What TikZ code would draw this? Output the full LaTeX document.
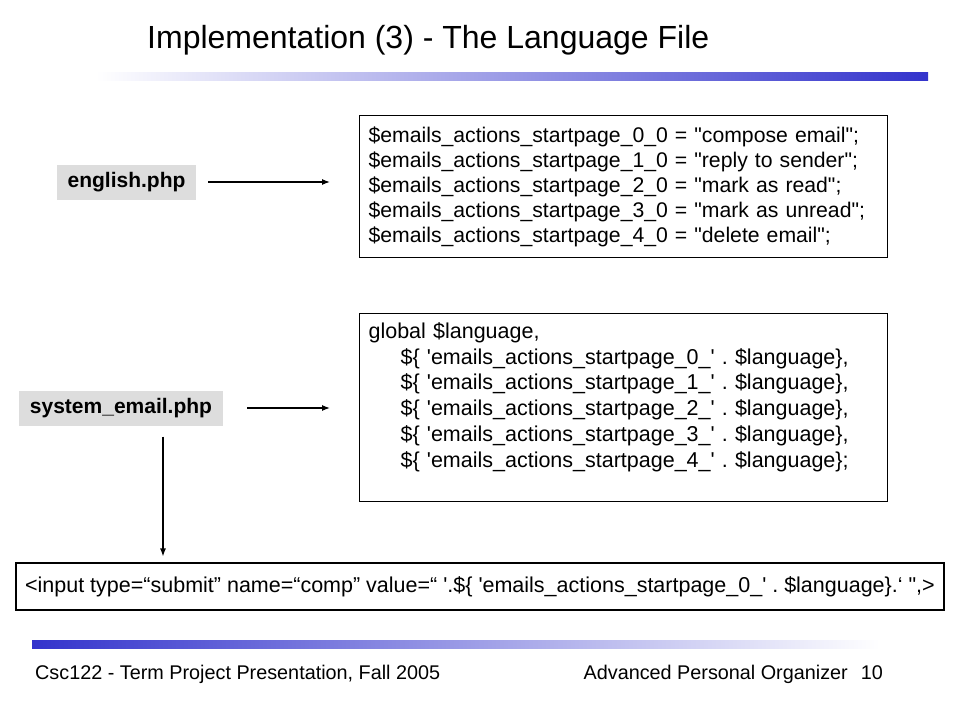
\documentclass[tikz,border=0pt]{standalone}
\usepackage{fontspec}
\setmainfont{Liberation Sans}
\usetikzlibrary{positioning,arrows.meta}

\definecolor{barblue}{RGB}{51,51,204}
\definecolor{taggray}{RGB}{221,221,221}
\newcommand{\tq}{\textquotesingle}
\newcommand{\dq}{\textquotedbl}
\frenchspacing

\begin{document}
\begin{tikzpicture}[x=1pt,y=-1pt,
  filetag/.style={fill=taggray,minimum height=35pt,inner sep=0pt,font=\fontsize{21}{25}\selectfont\bfseries},
  codebox/.style={draw,line width=1.2pt,align=left,text width=510pt,inner xsep=9pt,inner ysep=11pt,font=\fontsize{21.2}{25}\selectfont},
  link/.style={->,>={Latex[length=8pt,width=6pt]},line width=1.2pt}]
\useasboundingbox (0,0) rectangle (960,720);

% Title and bars
\node [anchor=base west,inner sep=0pt,font=\fontsize{32}{38}\selectfont] (title) at (147,48) {Implementation (3) - The Language File};
\shade [left color=white,right color=barblue] (96,72) rectangle (928,80);
\shade [left color=barblue,right color=white] (32,640) rectangle (880,648);

% Language file
\node [codebox,anchor=north west] (langdefs) at (359,115) {%
\$emails\_actions\_startpage\_0\_0 = \dq compose email\dq;\\
\$emails\_actions\_startpage\_1\_0 = \dq reply to sender\dq;\\
\$emails\_actions\_startpage\_2\_0 = \dq mark as read\dq;\\
\$emails\_actions\_startpage\_3\_0 = \dq mark as unread\dq;\\
\$emails\_actions\_startpage\_4\_0 = \dq delete email\dq;};

% Where it is used
\node [codebox,anchor=north west,inner ysep=9pt,font=\fontsize{21.5}{25.7}\selectfont] (usedefs) at (359,313) {%
global \$language,\\
\hspace*{32pt}\$\{ \tq emails\_actions\_startpage\_0\_\tq{} . \$language\},\\
\hspace*{32pt}\$\{ \tq emails\_actions\_startpage\_1\_\tq{} . \$language\},\\
\hspace*{32pt}\$\{ \tq emails\_actions\_startpage\_2\_\tq{} . \$language\},\\
\hspace*{32pt}\$\{ \tq emails\_actions\_startpage\_3\_\tq{} . \$language\},\\
\hspace*{32pt}\$\{ \tq emails\_actions\_startpage\_4\_\tq{} . \$language\};\\
\mbox{}};

% File names
\node [filetag,minimum width=139pt] (english) at (126.5,182) {english.php};
\node [filetag,minimum width=204pt] (system) at (121,408) {system\_email.php};

% Button line
\node [draw,line width=1.2pt,minimum width=928pt,minimum height=47pt,inner sep=0pt,font=\fontsize{21.5}{25}\selectfont] (inputline) at (480,586.5)
  {<input type=“submit” name=“comp” value=“ \tq.\$\{ \tq emails\_actions\_startpage\_0\_\tq{} . \$language\}.‘ \dq,>};

% Arrows
\draw [link,shorten <=12pt,shorten >=29pt] (english.east) -- (english.east -| langdefs.west);
\draw [link,shorten <=24pt,shorten >=29pt] (system.east) -- (system.east -| usedefs.west);
\draw [link,shorten <=11pt,shorten >=6pt] ([xshift=42pt]system.south) -- ([xshift=42pt]system.south |- inputline.north);

% Footer
\node [anchor=base west,inner sep=0pt,font=\fontsize{19.8}{24}\selectfont] (course) at (35,679) {Csc122 - Term Project Presentation, Fall 2005};
\node [anchor=base east,inner sep=0pt,font=\fontsize{19.8}{24}\selectfont] (organizer) at (848,679) {Advanced Personal Organizer};
\node [anchor=base east,inner sep=0pt,font=\fontsize{19.8}{24}\selectfont] (pagenum) at (883,679) {10};

\end{tikzpicture}
\end{document}
